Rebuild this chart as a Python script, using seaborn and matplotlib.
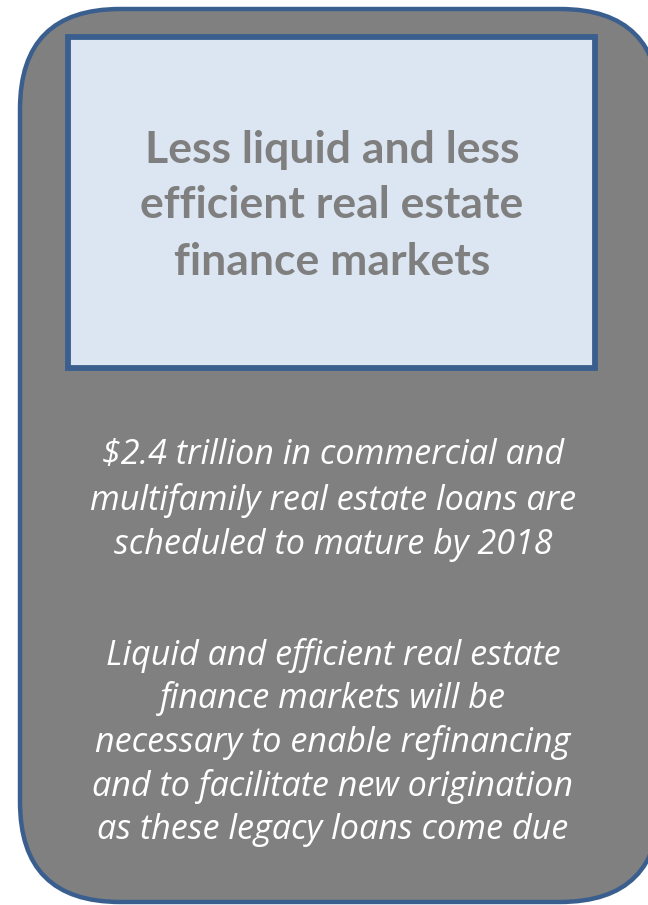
import matplotlib
matplotlib.use("Agg")
import matplotlib.pyplot as plt
import seaborn as sns
from matplotlib.patches import FancyBboxPatch, Rectangle

sns.set_style("white")
plt.rcParams['font.family'] = ['Lato', 'DejaVu Sans']

title_lines = ["Less liquid and less", "efficient real estate", "finance markets"]
title_y = [150, 205, 262]
para1 = ["$2.4 trillion in commercial and", "multifamily real estate loans are",
         "scheduled to mature by 2018"]
para1_y = [455, 500, 545]
para2 = ["Liquid and efficient real estate", "finance markets will be",
         "necessary to enable refinancing", "and to facilitate new origination",
         "as these legacy loans come due"]
para2_y = [655, 698, 742, 786, 830]

W, H = 648, 905
fig = plt.figure(figsize=(W / 100, H / 100), dpi=100)
ax = fig.add_axes([0, 0, 1, 1])
ax.set_xlim(0, W)
ax.set_ylim(H, 0)
ax.axis("off")

border = "#3A5F8F"
outer = FancyBboxPatch((20, 9), 660 - 20, 902 - 9,
                       boxstyle="round,pad=0,rounding_size=100",
                       facecolor="#808080", edgecolor=border, linewidth=3.2)
ax.add_patch(outer)
inner = Rectangle((68, 37), 595 - 68, 368 - 37, facecolor="#DCE6F2",
                  edgecolor=border, linewidth=4.2)
ax.add_patch(inner)

for t, y in zip(title_lines, title_y):
    ax.text(332, y, t, ha="center", va="center", fontsize=32, fontweight="bold",
            color="#7F7F7F")
for t, y in zip(para1 + para2, para1_y + para2_y):
    ax.text(333, y, t, ha="center", va="center", fontsize=24.6, fontstyle="italic",
            color="white", family=["Open Sans", "DejaVu Sans"])

fig.savefig("out.png", dpi=100)
